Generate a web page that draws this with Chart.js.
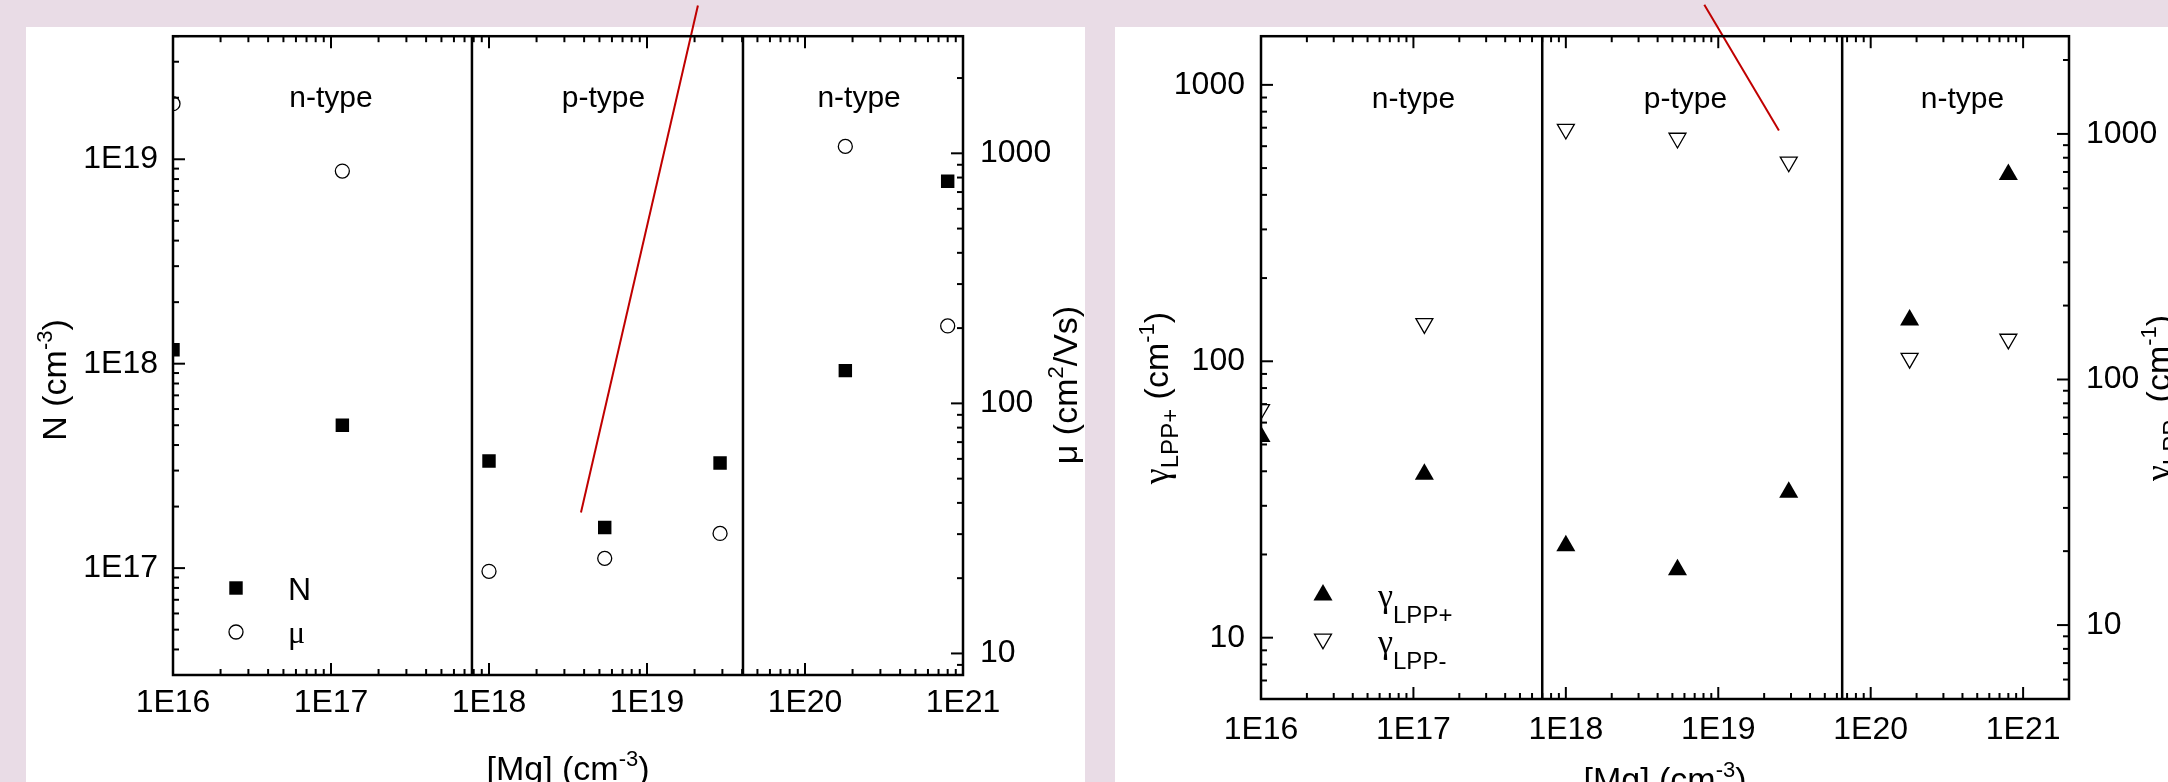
<!DOCTYPE html>
<html>
<head>
<meta charset="utf-8">
<title>Mg doping: carrier density, mobility and LPP damping</title>
<script src="https://cdn.jsdelivr.net/npm/chart.js@4.4.1/dist/chart.umd.min.js"></script>
<style>
  html, body { margin: 0; padding: 0; }
  body { width: 2168px; height: 782px; overflow: hidden; position: relative; background: #e9dce6; }
  .panel { position: absolute; top: 27px; height: 755px; background: #fff; }
  #panelL { left: 26px; width: 1059px; }
  #panelR { left: 1115px; width: 1053px; }
  canvas { position: absolute; top: 0; }
  #chartL { left: 0; }
  #chartR { left: 1100px; }
</style>
</head>
<body>
<div class="panel" id="panelL"></div>
<div class="panel" id="panelR"></div>
<canvas id="chartL" width="1100" height="782"></canvas>
<canvas id="chartR" width="1068" height="782"></canvas>
<script>
// Mg concentration of the samples (cm^-3), same for both panels
const mgConc = [1e16, 1.18e17, 1e18, 5.4e18, 2.9e19, 1.8e20, 8e20];
// left panel: carrier density and mobility
const carrierN = [1.17e18, 5.0e17, 3.34e17, 1.58e17, 3.27e17, 9.25e17, 7.8e18];
const mobility = [1580, 849, 21.3, 24.0, 30.2, 1066, 204];
// right panel: LPP damping
const gammaPlus = [53.4, 39.0, 21.5, 17.6, 33.6, 141, 474];
const gammaMinus = [75.5, 169, 1045, 961, 769, 122, 146];

const mgTicks = [1e16, 1e17, 1e18, 1e19, 1e20, 1e21];
const nTicks = [1e17, 1e18, 1e19];
const decadeTicks = [10, 100, 1000];

const regionNames = ['n-type', 'p-type', 'n-type'];
const leftRegionX = [1e17, 5.3e18, 2.2e20];
const rightRegionX = [1e17, 6.1e18, 4e20];
const leftBounds = [7.8e17, 4.05e19];
const rightBounds = [7.0e17, 6.5e19];

// red pointer lines
const pointerLeftX = [2.1e19, 3.82e18];
const pointerLeftY = [5.65e19, 1.87e17];
const pointerRightX = [8.1e18, 2.5e19];
const pointerRightY = [1950, 684];

const SANS = '"Liberation Sans", Arial, sans-serif';
const SERIF = '"Liberation Serif", "Times New Roman", serif';
const FONTS = {
  n: { font: '34px ' + SANS, dy: 0 },
  sup: { font: '22px ' + SANS, dy: -14 },
  sub: { font: '24px ' + SANS, dy: 10 },
  g: { font: '36px ' + SERIF, dy: 0 },
  leg: { font: '32px ' + SANS, dy: 0 },
  legMu: { font: '32px ' + SERIF, dy: 0 },
  legG: { font: '34px ' + SERIF, dy: 0 },
  legSub: { font: '24px ' + SANS, dy: 16 }
};

Chart.defaults.font.family = SANS;
Chart.defaults.color = '#000';

const pts = (xs, ys) => xs.map((x, i) => ({ x, y: ys[i] }));
const fmtExp = v => '1E' + Math.round(Math.log10(v));
const fmtPlain = v => String(Math.round(v));

function logAxis(position, min, max, ticks, fmt, size, padding) {
  return {
    type: 'logarithmic', position, min, max,
    grid: { display: false, drawTicks: false },
    border: { display: false },
    afterBuildTicks: s => { s.ticks = ticks.map(v => ({ value: v })); },
    afterFit: s => { if (s.isHorizontal()) s.height = size; else s.width = size; },
    ticks: { autoSkip: false, maxRotation: 0, minRotation: 0, padding, font: { size: 32 }, callback: fmt }
  };
}

function drawRich(ctx, parts, x, y, rot, align) {
  ctx.save();
  ctx.translate(x, y);
  ctx.rotate(rot || 0);
  ctx.fillStyle = '#000';
  ctx.textBaseline = 'alphabetic';
  ctx.textAlign = 'left';
  let w = 0;
  parts.forEach(([t, k]) => { ctx.font = FONTS[k].font; w += ctx.measureText(t).width; });
  let cx = align === 'left' ? 0 : -w / 2;
  parts.forEach(([t, k]) => {
    ctx.font = FONTS[k].font;
    ctx.fillText(t, cx, FONTS[k].dy);
    cx += ctx.measureText(t).width;
  });
  ctx.restore();
}

const decor = {
  id: 'decor',
  beforeDatasetsDraw(chart, args, o) {
    const { ctx, chartArea: a } = chart;
    const xs = chart.scales.x;
    ctx.save();
    ctx.strokeStyle = '#000';
    ctx.lineWidth = 2.5;
    o.bounds.forEach(b => {
      const p = xs.getPixelForValue(b);
      ctx.beginPath(); ctx.moveTo(p, a.top); ctx.lineTo(p, a.bottom); ctx.stroke();
    });
    ctx.fillStyle = '#000';
    ctx.font = '30px ' + SANS;
    ctx.textAlign = 'center';
    ctx.textBaseline = 'alphabetic';
    o.regionX.forEach((x, i) => ctx.fillText(regionNames[i], xs.getPixelForValue(x), a.top + o.regionDy));
    ctx.restore();
  },
  afterDraw(chart, args, o) {
    const { ctx, chartArea: a } = chart;
    ctx.save();
    ctx.strokeStyle = '#000';
    ctx.lineWidth = 2;
    o.tickAxes.forEach(([id, side]) => {
      const s = chart.scales[id];
      const e0 = Math.floor(Math.log10(s.min)), e1 = Math.floor(Math.log10(s.max));
      for (let e = e0; e <= e1; e++) {
        for (let k = 1; k < 10; k++) {
          const v = k * Math.pow(10, e);
          if (v < s.min * 0.999 || v > s.max * 1.001) continue;
          const p = s.getPixelForValue(v);
          const len = k === 1 ? 12 : 6;
          ctx.beginPath();
          if (side === 'bottom') { ctx.moveTo(p, a.bottom); ctx.lineTo(p, a.bottom - len); }
          if (side === 'top') { ctx.moveTo(p, a.top); ctx.lineTo(p, a.top + len); }
          if (side === 'left') { ctx.moveTo(a.left, p); ctx.lineTo(a.left + len, p); }
          if (side === 'right') { ctx.moveTo(a.right, p); ctx.lineTo(a.right - len, p); }
          ctx.stroke();
        }
      }
    });
    ctx.lineWidth = 2.5;
    ctx.strokeRect(a.left, a.top, a.width, a.height);

    o.legend.forEach(l => {
      ctx.fillStyle = l.fill;
      ctx.strokeStyle = '#000';
      ctx.lineWidth = l.style.borderWidth || 1;
      Chart.helpers.drawPoint(ctx, l.style, l.x, l.y);
      drawRich(ctx, l.parts, l.tx, l.ty, 0, 'left');
    });
    o.titles.forEach(t => drawRich(ctx, t.parts, t.x === 'mid' ? (a.left + a.right) / 2 : t.x, t.y, t.rot));
    ctx.restore();
  }
};

const base = {
  type: 'scatter',
  plugins: [decor],
};
const commonOptions = {
  responsive: false,
  animation: false,
  events: [],
  layout: { padding: { top: 31, left: 0, right: 0, bottom: 0 } },
};

new Chart(document.getElementById('chartL'), {
  ...base,
  data: {
    datasets: [
      { label: 'N', data: pts(mgConc, carrierN), yAxisID: 'y', pointStyle: 'rect', pointRadius: 9.5,
        backgroundColor: '#000', borderColor: '#000', borderWidth: 0 },
      { label: 'μ', data: pts(mgConc, mobility), yAxisID: 'y2', pointStyle: 'circle', pointRadius: 7,
        backgroundColor: '#fff', borderColor: '#000', borderWidth: 1.3 },
      { label: 'pointer', data: pts(pointerLeftX, pointerLeftY), yAxisID: 'y', showLine: true,
        pointRadius: 0, borderColor: '#c00000', borderWidth: 2, clip: false }
    ]
  },
  options: {
    ...commonOptions,
    scales: {
      x: logAxis('bottom', 1e16, 1e21, mgTicks, fmtExp, 107, 9),
      y: logAxis('left', 3.0e16, 4.0e19, nTicks, fmtExp, 173, 15),
      y2: logAxis('right', 8.2, 2940, decadeTicks, fmtPlain, 137, 17)
    },
    plugins: {
      legend: { display: false },
      tooltip: { enabled: false },
      decor: {
        bounds: leftBounds,
        regionX: leftRegionX,
        regionDy: 71,
        tickAxes: [['x', 'bottom'], ['x', 'top'], ['y', 'left'], ['y2', 'right']],
        legend: [
          { style: { pointStyle: 'rect', radius: 9.5, borderWidth: 0 }, fill: '#000', x: 236, y: 588,
            parts: [['N', 'leg']], tx: 288, ty: 600 },
          { style: { pointStyle: 'circle', radius: 7, borderWidth: 1.3 }, fill: '#fff', x: 236, y: 632,
            parts: [['μ', 'legMu']], tx: 288, ty: 643 }
        ],
        titles: [
          { parts: [['[Mg] (cm', 'n'], ['-3', 'sup'], [')', 'n']], x: 'mid', y: 780, rot: 0 },
          { parts: [['N (cm', 'n'], ['-3', 'sup'], [')', 'n']], x: 66, y: 380, rot: -Math.PI / 2 },
          { parts: [['μ (cm', 'n'], ['2', 'sup'], ['/Vs)', 'n']], x: 1077, y: 385, rot: -Math.PI / 2 }
        ]
      }
    }
  }
});

new Chart(document.getElementById('chartR'), {
  ...base,
  data: {
    datasets: [
      { label: 'γLPP+', data: pts(mgConc, gammaPlus), yAxisID: 'y', pointStyle: 'triangle', pointRadius: 11,
        backgroundColor: '#000', borderColor: '#000', borderWidth: 0 },
      { label: 'γLPP-', data: pts(mgConc, gammaMinus), yAxisID: 'y2', pointStyle: 'triangle', pointRotation: 180,
        pointRadius: 9.8, backgroundColor: '#fff', borderColor: '#000', borderWidth: 1.3 },
      { label: 'pointer', data: pts(pointerRightX, pointerRightY), yAxisID: 'y', showLine: true,
        pointRadius: 0, borderColor: '#c00000', borderWidth: 2, clip: false }
    ]
  },
  options: {
    ...commonOptions,
    scales: {
      x: logAxis('bottom', 1e16, 2e21, mgTicks, fmtExp, 83, 12),
      y: logAxis('left', 6, 1500, decadeTicks, fmtPlain, 161, 16),
      y2: logAxis('right', 5, 2500, decadeTicks, fmtPlain, 99, 17)
    },
    plugins: {
      legend: { display: false },
      tooltip: { enabled: false },
      decor: {
        bounds: rightBounds,
        regionX: rightRegionX,
        regionDy: 72,
        tickAxes: [['x', 'bottom'], ['x', 'top'], ['y', 'left'], ['y2', 'right']],
        legend: [
          { style: { pointStyle: 'triangle', radius: 11, borderWidth: 0 }, fill: '#000', x: 223, y: 595,
            parts: [['γ', 'legG'], ['LPP+', 'legSub']], tx: 278, ty: 607 },
          { style: { pointStyle: 'triangle', radius: 9.8, rotation: 180, borderWidth: 1.3 }, fill: '#fff', x: 223, y: 639,
            parts: [['γ', 'legG'], ['LPP-', 'legSub']], tx: 278, ty: 653 }
        ],
        titles: [
          { parts: [['[Mg] (cm', 'n'], ['-3', 'sup'], [')', 'n']], x: 'mid', y: 791, rot: 0 },
          { parts: [['γ', 'g'], ['LPP+', 'sub'], [' (cm', 'n'], ['-1', 'sup'], [')', 'n']], x: 68, y: 398, rot: -Math.PI / 2 },
          { parts: [['γ', 'g'], ['LPP-', 'sub'], [' (cm', 'n'], ['-1', 'sup'], [')', 'n']], x: 1070, y: 398, rot: -Math.PI / 2 }
        ]
      }
    }
  }
});
</script>
</body>
</html>
